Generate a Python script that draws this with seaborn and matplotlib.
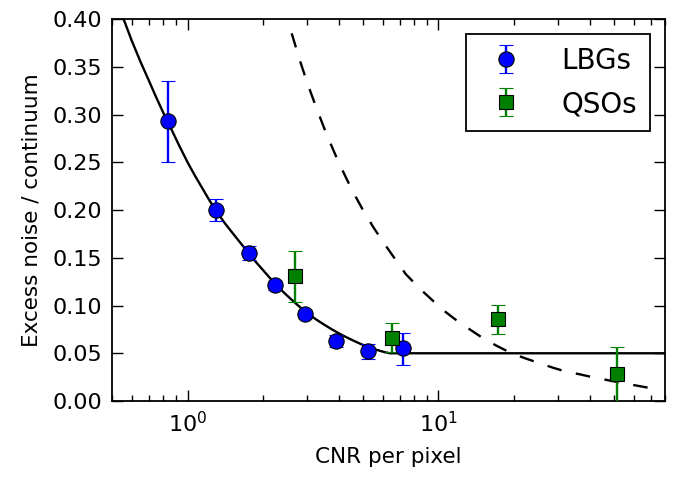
import numpy as np
import pandas as pd
import matplotlib
matplotlib.use("Agg")
import matplotlib.pyplot as plt
import seaborn as sns

# LBG measurements
lbg_cnr = [0.838, 1.293, 1.755, 2.24, 2.95, 3.91, 5.23, 7.21]
lbg_val = [0.293, 0.200, 0.155, 0.121, 0.091, 0.063, 0.052, 0.055]
lbg_err_lo = [0.043, 0.012, 0.007, 0.005, 0.004, 0.006, 0.008, 0.017]
lbg_err_hi = [0.042, 0.012, 0.007, 0.005, 0.004, 0.006, 0.008, 0.016]

# QSO measurements
qso_cnr = [2.67, 6.54, 17.3, 51.3]
qso_val = [0.131, 0.066, 0.0855, 0.028]
qso_err_lo = [0.027, 0.015, 0.0155, 0.030]
qso_err_hi = [0.026, 0.016, 0.0155, 0.029]

# Solid model curve
solid_cnr = [0.5, 0.53, 0.556, 0.6, 0.65, 0.7, 0.75, 0.8, 0.85, 0.92, 1.0, 1.07,
             1.15, 1.22, 1.3, 1.4, 1.5, 1.62, 1.75, 1.87, 2.0, 2.12, 2.25, 2.42,
             2.6, 2.8, 3.0, 3.25, 3.5, 3.75, 4.0, 4.3, 4.6, 4.9, 5.2, 5.5, 5.8,
             6.1, 6.4, 80.0]
solid_val = [0.435, 0.415, 0.400, 0.377, 0.355, 0.336, 0.318, 0.302, 0.288, 0.269,
             0.250, 0.236, 0.222, 0.2105, 0.199, 0.187, 0.177, 0.166, 0.155, 0.1457,
             0.137, 0.1294, 0.122, 0.1136, 0.106, 0.0985, 0.092, 0.0855, 0.080,
             0.0752, 0.071, 0.0667, 0.063, 0.0597, 0.0570, 0.0547, 0.0528, 0.0512,
             0.050, 0.050]

# Dashed curve
dash_cnr = [2.6, 2.8, 3.0, 3.25, 3.5, 3.75, 4.0, 4.5, 5.0, 5.5, 6.0, 6.7, 7.4,
            8.4, 9.5, 10.7, 12.0, 13.5, 15.0, 17.0, 19.2, 22.0, 25.0, 28.5, 32.0,
            36.5, 41.0, 48.0, 55.0, 62.0, 70.0]
dash_val = [0.385, 0.357, 0.333, 0.308, 0.286, 0.267, 0.250, 0.222, 0.200, 0.182,
            0.167, 0.149, 0.133, 0.118, 0.105, 0.093, 0.083, 0.074, 0.066, 0.058,
            0.051, 0.045, 0.040, 0.035, 0.031, 0.028, 0.0250, 0.0215, 0.0185,
            0.0160, 0.0135]

sns.set_theme(style="ticks")
plt.rcParams['font.family'] = ['DejaVu Sans']
plt.rcParams['mathtext.fontset'] = 'dejavusans'
plt.rcParams['text.color'] = 'black'
plt.rcParams['axes.labelcolor'] = 'black'
plt.rcParams['xtick.color'] = 'black'
plt.rcParams['ytick.color'] = 'black'

fig = plt.figure(figsize=(6.85, 4.79), dpi=100)
ax = fig.add_axes([0.1635, 0.1628, 0.971 - 0.1635, 0.9603 - 0.1628])

solid_df = pd.DataFrame({"x": solid_cnr, "y": solid_val})
dash_df = pd.DataFrame({"x": dash_cnr, "y": dash_val})
sns.lineplot(data=solid_df, x="x", y="y", ax=ax, color="black", linewidth=1.7,
             sort=False, estimator=None, legend=False)
sns.lineplot(data=dash_df, x="x", y="y", ax=ax, color="black", linewidth=1.7,
             sort=False, estimator=None, legend=False)
ax.lines[0].set_linewidth(1.7)
ax.lines[1].set_linewidth(1.7)
ax.lines[1].set_linestyle((0, (6.2, 6.2)))

ax.errorbar(lbg_cnr, lbg_val, yerr=[lbg_err_lo, lbg_err_hi], fmt='o', color='blue',
            mec='black', mew=0.8, ms=11, ecolor='blue', elinewidth=1.7, capsize=5,
            capthick=1.7, label='LBGs', zorder=3)
ax.errorbar(qso_cnr, qso_val, yerr=[qso_err_lo, qso_err_hi], fmt='s', color='green',
            mec='black', mew=0.8, ms=10.5, ecolor='green', elinewidth=1.7, capsize=5,
            capthick=1.7, label='QSOs', zorder=3)

ax.set_xscale('log')
ax.set_xlim(0.5, 80)
ax.set_ylim(0, 0.40)
ax.set_yticks(np.arange(0, 0.401, 0.05))
ax.set_yticklabels([f"{v:.2f}" for v in np.arange(0, 0.401, 0.05)])

for s in ax.spines.values():
    s.set_visible(True)
    s.set_linewidth(1.3)
    s.set_color('black')

ax.tick_params(which='both', direction='in', top=True, right=True, colors='black',
               labelsize=16, width=1.0)
ax.tick_params(which='major', length=8, pad=7)
ax.tick_params(which='minor', length=4)
ax.tick_params(axis='y', which='minor', left=False, right=False)

ax.set_xlabel('CNR per pixel', fontsize=15.5, labelpad=8, color='black')
ax.set_ylabel('Excess noise / continuum', fontsize=15.5, labelpad=8, color='black')

leg = ax.legend(loc='upper right', fontsize=20, numpoints=1, frameon=True,
                fancybox=False, handlelength=2.0, borderpad=0.45, labelspacing=0.55,
                handletextpad=1.0, borderaxespad=0.55)
leg.get_frame().set_edgecolor('black')
leg.get_frame().set_linewidth(1.3)
leg.get_frame().set_alpha(1)
for t in leg.get_texts():
    t.set_color('black')

fig.savefig('out.png', dpi=100)
